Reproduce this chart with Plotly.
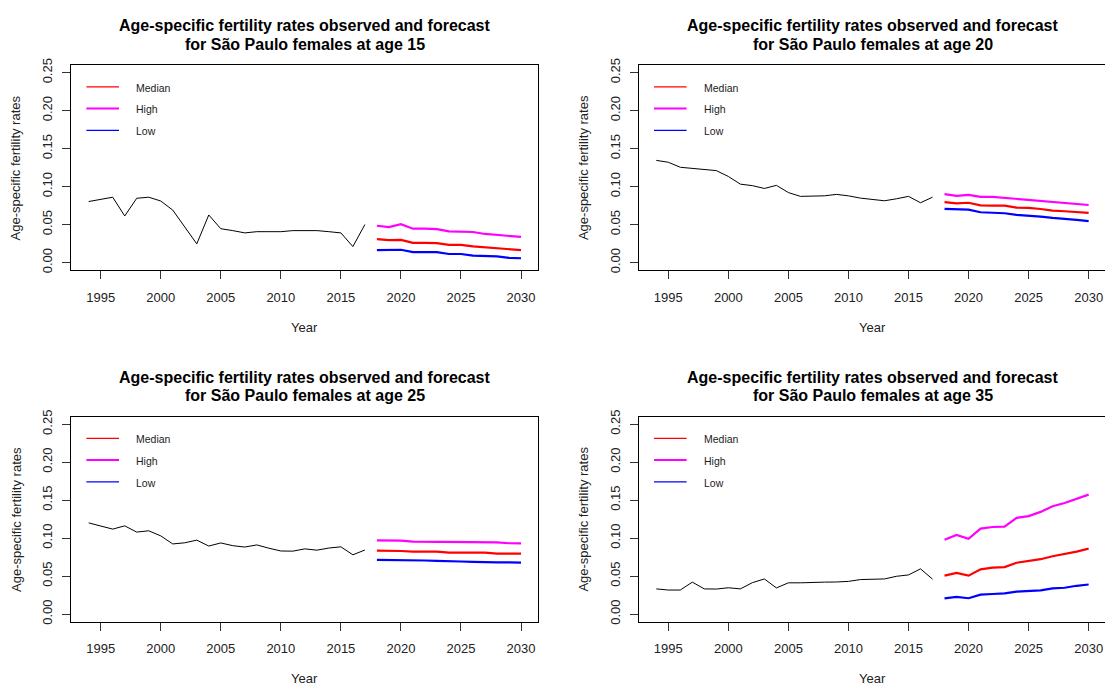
import plotly.graph_objects as go

# ---------------- data ----------------
years_obs = list(range(1994, 2018))
years_fc = list(range(2018, 2031))
ages = [15, 20, 25, 35]

obs_15 = [0.0803, 0.083, 0.086, 0.0613, 0.0846, 0.086, 0.081, 0.069, 0.0475, 0.0246, 0.0626, 0.0445,
          0.042, 0.039, 0.0406, 0.0406, 0.0406, 0.042, 0.042, 0.042, 0.0406, 0.039, 0.021, 0.050]
med_15 = [0.0307, 0.0294, 0.0297, 0.0259, 0.0259, 0.0255, 0.0233, 0.0233, 0.0212, 0.0199, 0.0186, 0.0168, 0.0164]
high_15 = [0.0484, 0.0466, 0.0505, 0.0445, 0.0445, 0.044, 0.041, 0.0406, 0.0402, 0.0376, 0.0363, 0.0345, 0.0337]
low_15 = [0.0164, 0.0164, 0.0168, 0.0138, 0.0138, 0.0138, 0.0112, 0.0112, 0.009, 0.009, 0.0082, 0.006, 0.0056]

obs_20 = [0.1345, 0.132, 0.1254, 0.1237, 0.122, 0.121, 0.1133, 0.1032, 0.1012, 0.0975, 0.1016, 0.0921,
          0.0871, 0.0878, 0.0878, 0.0897, 0.0878, 0.0848, 0.083, 0.0813, 0.0839, 0.0871, 0.0787, 0.086]
med_20 = [0.0796, 0.0778, 0.0787, 0.0752, 0.075, 0.0748, 0.0722, 0.072, 0.0705, 0.0683, 0.0675, 0.0662, 0.0653]
high_20 = [0.09, 0.0878, 0.0891, 0.0865, 0.0865, 0.0852, 0.0835, 0.083, 0.0813, 0.0805, 0.0787, 0.0774, 0.0757]
low_20 = [0.0705, 0.0696, 0.0696, 0.0662, 0.0653, 0.0649, 0.0627, 0.0618, 0.0605, 0.0588, 0.0579, 0.0562, 0.0545]

obs_25 = [0.12, 0.1155, 0.1118, 0.1161, 0.1079, 0.1096, 0.1029, 0.0923, 0.0938, 0.0973, 0.0895, 0.0936,
          0.09, 0.0882, 0.091, 0.0867, 0.083, 0.0828, 0.0858, 0.0841, 0.0869, 0.0885, 0.078, 0.0843]
med_25 = [0.0834, 0.0834, 0.083, 0.0822, 0.0822, 0.0822, 0.0809, 0.0809, 0.0809, 0.0809, 0.0796, 0.0796, 0.0796]
high_25 = [0.0969, 0.0969, 0.0966, 0.0953, 0.0952, 0.0952, 0.0952, 0.0945, 0.0944, 0.0943, 0.0943, 0.0932, 0.093]
low_25 = [0.0714, 0.0714, 0.071, 0.0705, 0.0705, 0.07, 0.0692, 0.0692, 0.0688, 0.0679, 0.0679, 0.0679, 0.0677]

obs_35 = [0.0331, 0.0316, 0.0316, 0.042, 0.0331, 0.0329, 0.0346, 0.0331, 0.0413, 0.0462, 0.0344, 0.0411,
          0.0411, 0.0411, 0.042, 0.0422, 0.043, 0.0454, 0.0462, 0.0462, 0.0497, 0.0515, 0.0595, 0.046]
med_35 = [0.0506, 0.0541, 0.0506, 0.0588, 0.061, 0.0618, 0.0675, 0.0696, 0.0722, 0.0761, 0.0787, 0.0822, 0.0862]
high_35 = [0.0977, 0.1042, 0.099, 0.1125, 0.1146, 0.1151, 0.1267, 0.1289, 0.1345, 0.1419, 0.1462, 0.1514, 0.1572]
low_35 = [0.0206, 0.0225, 0.0208, 0.0255, 0.0264, 0.0272, 0.0294, 0.0303, 0.0311, 0.0337, 0.0346, 0.0372, 0.0389]

series_names = ["Median", "High", "Low"]
x_ticks = [1995, 2000, 2005, 2010, 2015, 2020, 2025, 2030]
y_ticks = [0.0, 0.05, 0.10, 0.15, 0.20, 0.25]
title_line1 = "Age-specific fertility rates observed and forecast"
title_line2 = "for São Paulo females at age {}"
x_title = "Year"
y_title = "Age-specific fertility rates"

# ---------------- layout helpers ----------------
W, H = 1105, 688
FONT = "Liberation Sans, Arial, sans-serif"
COLORS = {"Median": "#ff0000", "High": "#ff00ff", "Low": "#0000ff"}
LEG_W = {"Median": 1.2, "High": 2.0, "Low": 1.2}


def px(x):
    return x / W


def py(y):
    return 1 - y / H


# panel geometry in pixels: (x_left, x_right, xrange, true box right)
col_geo = [
    (71.4, 538.3, [1992.56, 2031.44], 538.3),
    (639.0, 1105.0, [1992.56, 1995 + (1105 - 668.3) / 12.01], 1106.0),
]
row_geo = [(58.9, 267.0), (415.6, 623.7)]
row_shift = [0.0, 356.7]

panels = [
    (0, 0, ages[0], obs_15, med_15, high_15, low_15),
    (0, 1, ages[1], obs_20, med_20, high_20, low_20),
    (1, 0, ages[2], obs_25, med_25, high_25, low_25),
    (1, 1, ages[3], obs_35, med_35, high_35, low_35),
]

fig = go.Figure()
annotations = []
shapes = []

for i, (r, c, age, obs, med, high, low) in enumerate(panels):
    k = "" if i == 0 else str(i + 1)
    xl, xr, xrange, true_right = col_geo[c]
    yt, yb = row_geo[r]
    dy = row_shift[r]

    fig.add_trace(go.Scatter(x=years_obs, y=obs, mode="lines",
                             line=dict(color="#000000", width=1),
                             xaxis="x" + k, yaxis="y" + k, showlegend=False,
                             hoverinfo="skip"))
    for name, vals in zip(series_names, [med, high, low]):
        fig.add_trace(go.Scatter(x=years_fc, y=vals, mode="lines",
                                 line=dict(color=COLORS[name], width=2.2),
                                 xaxis="x" + k, yaxis="y" + k, showlegend=False,
                                 name=name, hoverinfo="skip"))

    axis_common = dict(showgrid=False, zeroline=False, showline=True,
                       linecolor="#000000", linewidth=1,
                       ticks="outside", ticklen=8, tickwidth=1, tickcolor="#333333",
                       tickfont=dict(family=FONT, size=13, color="#222222"))
    fig.layout["xaxis" + k] = dict(
        domain=[px(xl), px(xr)], range=xrange, anchor="y" + k,
        tickmode="array", tickvals=x_ticks, ticktext=[str(t) for t in x_ticks],
        mirror=True, ticklabelstandoff=7, **axis_common)
    fig.layout["yaxis" + k] = dict(
        domain=[py(yb), py(yt)], range=[-0.01, 0.26], anchor="x" + k,
        tickmode="array", tickvals=y_ticks, ticktext=["%.2f" % t for t in y_ticks],
        tickangle=-90, mirror=(c == 0), ticklabelstandoff=5, **axis_common)

    cx = (xl + true_right) / 2
    annotations.append(dict(x=px(cx), y=py(19 + dy), xref="paper", yref="paper",
                            text="<b>%s</b>" % title_line1, showarrow=False,
                            xanchor="center", yanchor="middle",
                            font=dict(family=FONT, size=16, color="#000000")))
    annotations.append(dict(x=px(cx), y=py(37.7 + dy), xref="paper", yref="paper",
                            text="<b>%s</b>" % title_line2.format(age), showarrow=False,
                            xanchor="center", yanchor="middle",
                            font=dict(family=FONT, size=16, color="#000000")))
    annotations.append(dict(x=px(cx), y=py(325 + dy), xref="paper", yref="paper",
                            text=x_title, showarrow=False,
                            xanchor="center", yanchor="middle",
                            font=dict(family=FONT, size=13, color="#222222")))
    annotations.append(dict(x=px(xl - 55.5), y=py((yt + yb) / 2), xref="paper", yref="paper",
                            text=y_title, showarrow=False, textangle=-90,
                            xanchor="center", yanchor="middle",
                            font=dict(family=FONT, size=13, color="#222222")))

    # legend drawn inside the plotting box
    for j, name in enumerate(series_names):
        ly = 81 + 22.1 * j + dy
        shapes.append(dict(type="line", xref="paper", yref="paper",
                           x0=px(xl + 15), x1=px(xl + 47.6), y0=py(ly), y1=py(ly),
                           line=dict(color=COLORS[name], width=LEG_W[name])))
        annotations.append(dict(x=px(xl + 62.5), y=py(ly + 0.8), xref="paper", yref="paper",
                                text=name, showarrow=False, xanchor="left", yanchor="middle",
                                font=dict(family=FONT, size=10.5, color="#222222")))

fig.update_layout(width=W, height=H, margin=dict(l=0, r=0, t=0, b=0),
                  paper_bgcolor="white", plot_bgcolor="white",
                  annotations=annotations, shapes=shapes, showlegend=False)

fig.write_html("out.html")
